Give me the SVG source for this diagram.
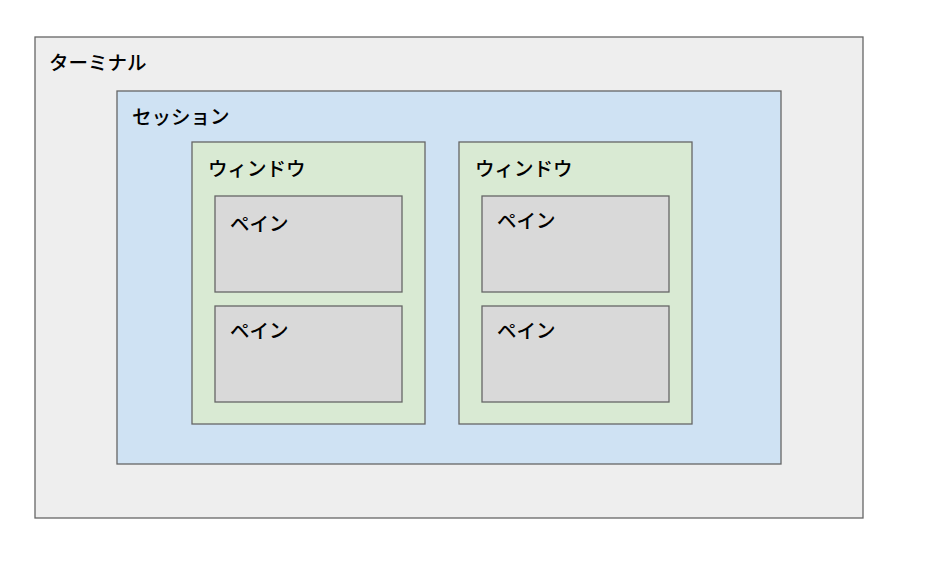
<svg xmlns="http://www.w3.org/2000/svg" width="926" height="561" viewBox="0 0 926 561">
<style>
rect{stroke:#666666;stroke-width:1.3}
.t{fill:#eeeeee}.s{fill:#cfe2f3}.w{fill:#d9ead3}.p{fill:#d9d9d9}
text{font-family:"Noto Sans CJK JP","Noto Sans",sans-serif;font-size:19.5px;font-weight:500;fill:#000}
</style>
<rect width="926" height="561" fill="#ffffff" style="stroke:none"/>
<g id="terminal"><rect class="t" x="35" y="37" width="828" height="481"/><text x="49" y="70">ターミナル</text></g>
<g id="session"><rect class="s" x="117" y="91" width="664" height="373"/><text x="132" y="124">セッション</text></g>
<g id="window1"><rect class="w" x="192" y="142" width="233" height="282"/><text x="208" y="176">ウィンドウ</text></g>
<g id="window2"><rect class="w" x="459" y="142" width="233" height="282"/><text x="475" y="176">ウィンドウ</text></g>
<g id="pane1"><rect class="p" x="215" y="196" width="187" height="96"/><text x="230" y="231">ペイン</text></g>
<g id="pane2"><rect class="p" x="215" y="306" width="187" height="96"/><text x="230" y="338">ペイン</text></g>
<g id="pane3"><rect class="p" x="482" y="196" width="187" height="96"/><text x="497" y="228">ペイン</text></g>
<g id="pane4"><rect class="p" x="482" y="306" width="187" height="96"/><text x="497" y="338">ペイン</text></g>
<g id="connectors"></g>
</svg>
